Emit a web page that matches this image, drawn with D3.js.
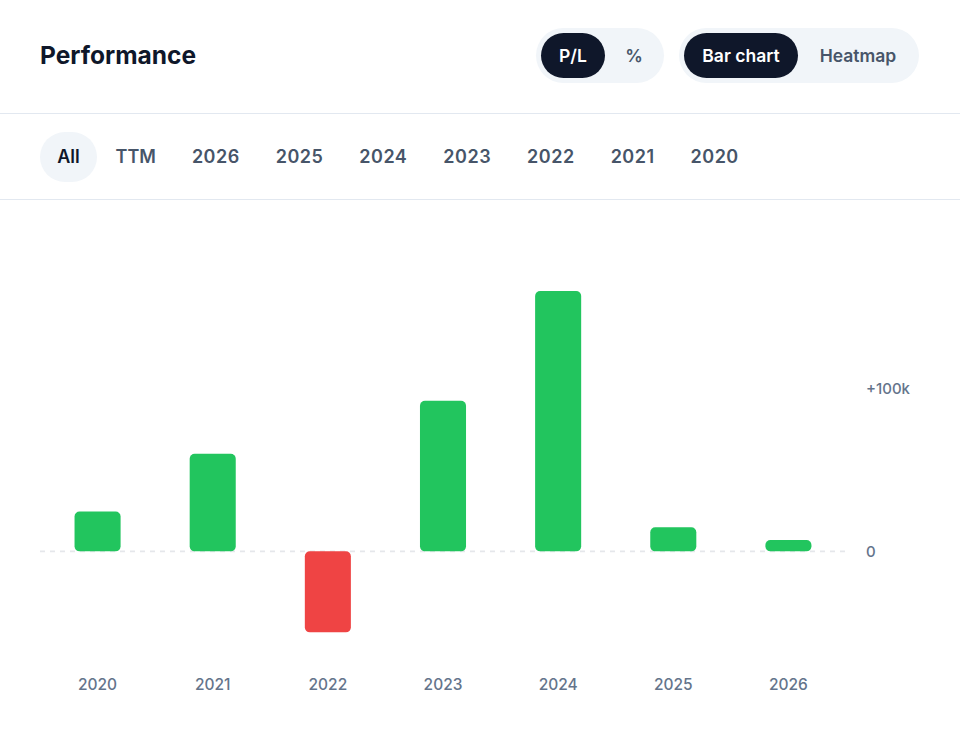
<!DOCTYPE html>
<html>
<head>
<meta charset="utf-8">
<script src="https://cdn.jsdelivr.net/npm/d3@7"></script>
<style>
  html, body { margin: 0; padding: 0; background: #fff; }
  svg { display: block; font-family: Inter, "Noto Sans", sans-serif; }
</style>
</head>
<body>
<svg id="chart" width="960" height="738"></svg>
<script>
// données (P/L par année, en $)
const years = ['2020', '2021', '2022', '2023', '2024', '2025', '2026'];
const pnl = [24500, 60000, -49800, 92500, 160000, 14800, 7000];
const yTicks = [0, 100000];
const tabs = ['All', 'TTM', '2026', '2025', '2024', '2023', '2022', '2021', '2020'];
const modeToggle = ['P/L', '%'];
const viewToggle = ['Bar chart', 'Heatmap'];

const W = 960;
const svg = d3.select('#chart');

const INK = '#0f172a';
const MUTED = '#475569';
const AXIS = '#64748b';
const PILL = '#f1f5f9';
const LINE = '#e2e8f0';

// --- en-tête
svg.append('text')
  .attr('x', 40).attr('y', 64)
  .attr('font-size', 24.5).attr('font-weight', 700)
  .attr('fill', INK)
  .text('Performance');

function toggle(x0, items, widths) {
  const g = svg.append('g').attr('transform', `translate(${x0},28)`);
  const total = d3.sum(widths) + 10;
  g.append('rect').attr('width', total).attr('height', 55).attr('rx', 27.5).attr('fill', PILL);
  let x = 5;
  items.forEach((t, i) => {
    if (i === 0) {
      g.append('rect').attr('x', x).attr('y', 5).attr('width', widths[i]).attr('height', 45)
        .attr('rx', 22.5).attr('fill', INK);
    }
    g.append('text')
      .attr('x', x + widths[i] / 2 + (i === 0 ? 0 : 2)).attr('y', 28).attr('dy', '0.35em')
      .attr('text-anchor', 'middle').attr('font-size', 17.5).attr('font-weight', 600)
      .attr('fill', i === 0 ? '#fff' : MUTED)
      .text(t);
    x += widths[i];
  });
}
toggle(536, modeToggle, [64, 54]);
toggle(679, viewToggle, [114, 116]);

svg.append('line').attr('x1', 0).attr('x2', W).attr('y1', 113.5).attr('y2', 113.5)
  .attr('stroke', LINE).attr('stroke-width', 1.2);
svg.append('line').attr('x1', 0).attr('x2', W).attr('y1', 199.5).attr('y2', 199.5)
  .attr('stroke', LINE).attr('stroke-width', 1.2);

// --- onglets de période
const tabG = svg.append('g');
let tx = 40;
tabs.forEach((t, i) => {
  const isYear = /^\d+$/.test(t);
  const txt = tabG.append('text')
    .attr('y', 157).attr('dy', '0.35em')
    .attr('text-anchor', 'middle').attr('font-size', 18).attr('font-weight', 600)
    .attr('letter-spacing', isYear ? 0.5 : 0)
    .attr('fill', i === 0 ? INK : MUTED)
    .text(t);
  const w = Math.max(57, txt.node().getComputedTextLength() + 31);
  if (i === 0) {
    tabG.insert('rect', 'text').attr('x', tx).attr('y', 132).attr('width', w).attr('height', 50)
      .attr('rx', 25).attr('fill', PILL);
  }
  txt.attr('x', tx + w / 2);
  tx += w + (i === 0 ? 3 : 5);
});

// --- graphique
const x = d3.scaleBand().domain(years).range([40, 846]).paddingInner(0.6).paddingOuter(0.3);
const y = d3.scaleLinear().domain([-80000, 180000]).range([681.5, 258.5]);
const data = years.map((yr, i) => ({ year: yr, v: pnl[i] }));

svg.append('line')
  .attr('x1', 40).attr('x2', 846).attr('y1', y(0)).attr('y2', y(0))
  .attr('stroke', '#e5e7eb').attr('stroke-width', 1.6).attr('stroke-dasharray', '5,5');

svg.append('g').selectAll('rect').data(data).join('rect')
  .attr('x', (d) => x(d.year))
  .attr('width', x.bandwidth())
  .attr('y', (d) => y(Math.max(0, d.v)))
  .attr('height', (d) => Math.abs(y(d.v) - y(0)))
  .attr('rx', 5)
  .attr('fill', (d) => (d.v >= 0 ? '#22c55e' : '#ef4444'));

const yAxis = d3.axisRight(y).tickValues(yTicks).tickSize(0).tickPadding(0)
  .tickFormat((d) => (d === 0 ? '0' : `+${d / 1000}k`));
svg.append('g').attr('transform', 'translate(866,0)').call(yAxis)
  .call((g) => g.select('.domain').remove())
  .selectAll('text')
  .attr('font-family', 'Inter, "Noto Sans", sans-serif')
  .attr('font-size', 15).attr('font-weight', 500).attr('fill', AXIS);

const xAxis = d3.axisBottom(x).tickSize(0).tickPadding(0);
svg.append('g').attr('transform', 'translate(0,679)').call(xAxis)
  .call((g) => g.select('.domain').remove())
  .selectAll('text')
  .attr('font-family', 'Inter, "Noto Sans", sans-serif')
  .attr('font-size', 15.5).attr('font-weight', 500).attr('fill', AXIS);
</script>
</body>
</html>
